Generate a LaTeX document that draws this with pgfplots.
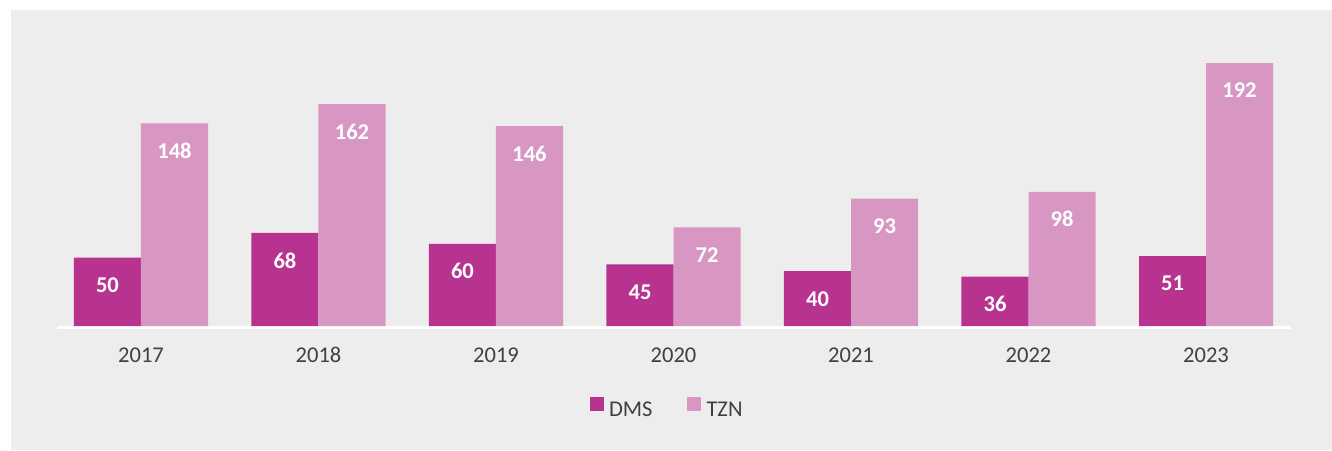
\documentclass[border=0pt]{standalone}
\usepackage{pgfplots}
\pgfplotsset{compat=1.18}
\usepackage{fontspec}
\setmainfont{Carlito}
\definecolor{dms}{HTML}{B83290}
\definecolor{tzn}{HTML}{D797C2}
\definecolor{bg}{HTML}{EDEDED}
\definecolor{txt}{HTML}{404040}
\begin{document}
\begin{tikzpicture}
\fill[white] (0,0) rectangle (999pt,337.5pt);
\fill[bg] (8.25pt,0) rectangle (999pt,330pt);
\begin{axis}[
  at={(42.75pt,91.95pt)}, anchor=south west,
  scale only axis, width=925.5pt, height=227.04pt,
  xmin=-0.4732, xmax=6.4789, ymin=-1, ymax=220,
  ybar=0pt, bar width=0.3775,
  axis x line=bottom, axis y line=none,
  x axis line style={white, line width=1.9pt, -},
  xtick={0,...,6}, xticklabels={2017,2018,2019,2020,2021,2022,2023},
  major tick length=0pt,
  xticklabel style={font=\fontsize{16.9}{20}\selectfont, text=txt, anchor=center, yshift=-20.7pt},
  nodes near coords,
  nodes near coords style={font=\fontsize{16.9}{20}\selectfont\bfseries, text=white, anchor=center, yshift=-20.6pt},
  /pgf/number format/assume math mode=true,
  legend style={at={(0.4947,-0.27)}, anchor=center, draw=none, fill=none,
    font=\fontsize{16.9}{20}\selectfont, text=txt,
    /tikz/every odd column/.append style={column sep=2pt},
    /tikz/every even column/.append style={column sep=24pt}},
  legend columns=2,
  legend image code/.code={\fill[#1] (0pt,0pt) rectangle (10.5pt,10.5pt);},
]
\addplot[bar shift=-0.18875, fill=dms, draw=none] coordinates {(0,50) (1,68) (2,60) (3,45) (4,40) (5,36) (6,51)};
\addplot[bar shift=0.18875, fill=tzn, draw=none] coordinates {(0,148) (1,162) (2,146) (3,72) (4,93) (5,98) (6,192)};
\legend{DMS,TZN}
\end{axis}
\end{tikzpicture}
\end{document}
